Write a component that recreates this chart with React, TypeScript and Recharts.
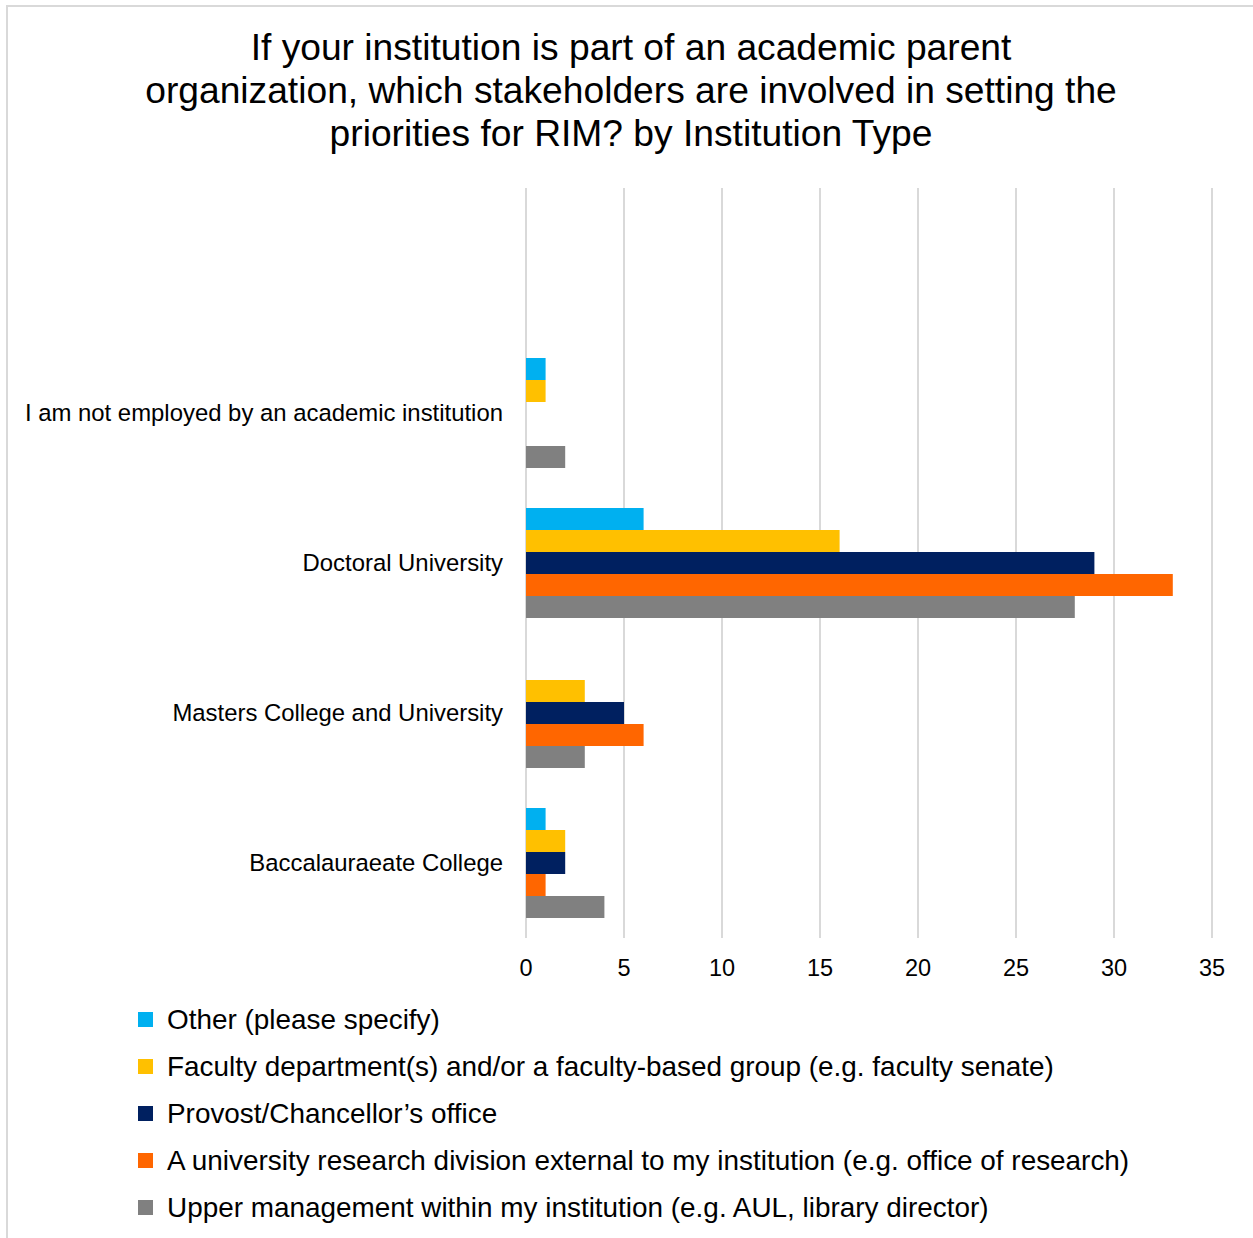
import { BarChart, Bar, XAxis, YAxis, CartesianGrid, Legend } from "recharts";

const FONT = '"Liberation Sans", Arial, sans-serif';

// categories, top to bottom as drawn (the top slot is empty in the source chart)
const categories = [
  "",
  "I am not employed by an academic institution",
  "Doctoral University",
  "Masters College and University",
  "Baccalauraeate College",
];

const otherVals = [0, 1, 6, 0, 1];
const facultyVals = [0, 1, 16, 3, 2];
const provostVals = [0, 0, 29, 5, 2];
const researchVals = [0, 0, 33, 6, 1];
const upperVals = [0, 2, 28, 3, 4];

const xTicks = [0, 5, 10, 15, 20, 25, 30, 35];

const titleLines = [
  "If your institution is part of an academic parent",
  "organization, which stakeholders are involved in setting the",
  "priorities for RIM? by Institution Type",
];

const series = [
  { key: "other", name: "Other (please specify)", color: "#00B0F0", values: otherVals },
  { key: "faculty", name: "Faculty department(s) and/or a faculty-based group (e.g. faculty senate)", color: "#FFC000", values: facultyVals },
  { key: "provost", name: "Provost/Chancellor\u2019s office", color: "#002060", values: provostVals },
  { key: "research", name: "A university research division external to my institution (e.g. office of research)", color: "#FF6600", values: researchVals },
  { key: "upper", name: "Upper management within my institution (e.g. AUL, library director)", color: "#808080", values: upperVals },
];

const data = categories.map((name, i) => {
  const row: Record<string, string | number> = { name };
  series.forEach((s) => {
    row[s.key] = s.values[i];
  });
  return row;
});

const LegendList = () => (
  <div style={{ fontFamily: FONT, fontSize: 27.9, color: "#000" }}>
    {series.map((s) => (
      <div key={s.key} style={{ height: 47, lineHeight: "47px", position: "relative", whiteSpace: "nowrap" }}>
        <span
          style={{
            position: "absolute",
            left: 0,
            top: 16,
            width: 15,
            height: 15,
            background: s.color,
          }}
        />
        <span style={{ position: "absolute", left: 29, top: 0 }}>{s.name}</span>
      </div>
    ))}
  </div>
);

export default function App() {
  return (
    <div
      style={{
        position: "absolute",
        left: 0,
        top: 0,
        width: 1253,
        height: 1238,
        overflow: "hidden",
        background: "#fff",
      }}
    >
      <div
        style={{
          position: "absolute",
          left: 6,
          top: 5,
          width: 1300,
          height: 1300,
          borderTop: "2px solid #D9D9D9",
          borderLeft: "2px solid #D9D9D9",
        }}
      />
      <div
        style={{
          position: "absolute",
          left: 0,
          top: 26,
          width: 1262,
          textAlign: "center",
          fontFamily: FONT,
          fontSize: 37.2,
          lineHeight: "43px",
          color: "#000",
        }}
      >
        {titleLines.map((t) => (
          <div key={t} style={{ whiteSpace: "nowrap" }}>{t}</div>
        ))}
      </div>
      <div style={{ position: "absolute", left: 0, top: 0 }}>
        <BarChart
          width={1253}
          height={1238}
          data={data}
          layout="vertical"
          barSize={22}
          barGap={0}
          margin={{ top: 188, right: 41, bottom: 260, left: 0 }}
        >
          <CartesianGrid horizontal={false} stroke="#D9D9D9" strokeWidth={2} />
          <XAxis
            type="number"
            domain={[0, 35]}
            ticks={xTicks}
            interval={0}
            axisLine={false}
            tickLine={false}
            tickSize={0}
            tickMargin={21}
            height={40}
            tick={{ fontSize: 23.5, fill: "#000", fontFamily: FONT }}
          />
          <YAxis
            type="category"
            dataKey="name"
            width={526}
            interval={0}
            axisLine={false}
            tickLine={false}
            tickSize={0}
            tickMargin={23}
            tick={{ fontSize: 23.9, fill: "#000", fontFamily: FONT }}
          />
          <Legend
            layout="horizontal"
            verticalAlign="middle"
            align="center"
            wrapperStyle={{ left: 138, top: 996, width: 1100 }}
            content={() => <LegendList />}
          />
          {series.map((s) => (
            <Bar key={s.key} dataKey={s.key} name={s.name} fill={s.color} isAnimationActive={false} />
          ))}
        </BarChart>
      </div>
    </div>
  );
}
